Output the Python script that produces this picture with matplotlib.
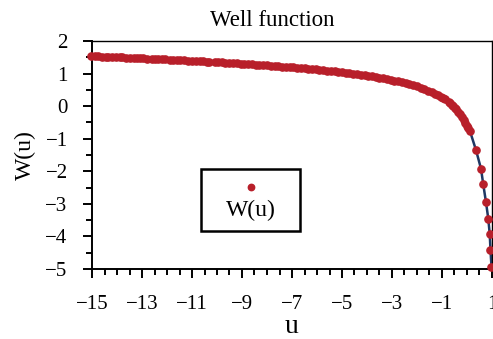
import matplotlib
matplotlib.use('Agg')
import matplotlib.pyplot as plt
from matplotlib.ticker import MultipleLocator
from matplotlib.lines import Line2D
from matplotlib.offsetbox import AnchoredOffsetbox, DrawingArea, TextArea, VPacker

plt.rcParams['font.family'] = ['Liberation Serif', 'DejaVu Serif']

# log10(u) and log10(W(u))
log_u = [-15.05, -14.9, -14.78, -14.6, -14.45, -14.38, -14.2, -14.05, -13.9, -13.82,
         -13.65, -13.5, -13.33, -13.2, -13.1, -12.95, -12.8, -12.62, -12.5, -12.35,
         -12.2, -12.1, -11.9, -11.75, -11.6, -11.5, -11.3, -11.15, -11.0, -10.85,
         -10.7, -10.55, -10.4, -10.3, -10.1, -9.95, -9.8, -9.7, -9.5, -9.35,
         -9.2, -9.05, -8.9, -8.75, -8.6, -8.45, -8.3, -8.15, -8.0, -7.85,
         -7.7, -7.55, -7.4, -7.25, -7.1, -6.95, -6.8, -6.65, -6.5, -6.35,
         -6.2, -6.05, -5.9, -5.75, -5.6, -5.45, -5.3, -5.15, -5.0, -4.85,
         -4.7, -4.55, -4.4, -4.25, -4.1, -3.95, -3.8, -3.65, -3.5, -3.35,
         -3.2, -3.05, -2.9, -2.75, -2.6, -2.45, -2.3, -2.15, -2.0, -1.85,
         -1.7, -1.55, -1.4, -1.28, -1.15, -1.05, -0.95, -0.88,
         -0.72, -0.66, -0.6, -0.54, -0.48, -0.42, -0.35, -0.28, -0.2, -0.13,
         -0.06, 0.0, 0.06, 0.12,
         0.36, 0.56, 0.65, 0.76, 0.85, 0.91, 0.94, 0.98]
log_w = [1.532, 1.528, 1.525, 1.519, 1.515, 1.512, 1.507, 1.502, 1.497, 1.495,
         1.489, 1.484, 1.479, 1.475, 1.471, 1.466, 1.461, 1.455, 1.450, 1.445,
         1.440, 1.436, 1.429, 1.423, 1.417, 1.413, 1.406, 1.400, 1.394, 1.388,
         1.381, 1.375, 1.369, 1.364, 1.356, 1.349, 1.342, 1.338, 1.328, 1.321,
         1.314, 1.307, 1.299, 1.292, 1.284, 1.276, 1.268, 1.260, 1.252, 1.243,
         1.234, 1.226, 1.217, 1.207, 1.198, 1.188, 1.178, 1.168, 1.158, 1.148,
         1.137, 1.126, 1.114, 1.103, 1.091, 1.078, 1.066, 1.052, 1.039, 1.025,
         1.011, 0.996, 0.980, 0.964, 0.948, 0.930, 0.912, 0.894, 0.874, 0.854,
         0.832, 0.809, 0.786, 0.760, 0.733, 0.705, 0.674, 0.642, 0.606, 0.568,
         0.526, 0.480, 0.429, 0.384, 0.331, 0.285, 0.255, 0.215,
         0.13, 0.095, 0.05, 0.0, -0.045, -0.1, -0.165, -0.245, -0.335, -0.425,
         -0.52, -0.6, -0.68, -0.77,
         -1.35, -1.92, -2.40, -2.95, -3.45, -3.93, -4.43, -4.93]

red = '#B81F2A'
navy = '#1F3864'

fig = plt.figure(figsize=(4.93, 3.39), dpi=100)
ax = fig.add_axes([92 / 493, 1 - 269 / 339, 400 / 493, 228 / 339])

ax.plot(log_u, log_w, color=navy, lw=1.8, zorder=2)
ax.plot(log_u, log_w, ls='none', marker='o', ms=5.2, color=red,
        clip_on=False, zorder=3)

ax.set_xlim(-15, 1)
ax.set_ylim(-5, 2)
ax.set_xticks(range(-15, 2, 2))
ax.set_yticks(range(-5, 3))
ax.xaxis.set_minor_locator(MultipleLocator(0.5))
ax.yaxis.set_minor_locator(MultipleLocator(0.5))
ax.tick_params(which='major', direction='out', length=6.5, width=1.4,
               labelsize=15)
ax.tick_params(axis='x', which='major', pad=12)
ax.tick_params(axis='y', which='major', pad=11)
ax.tick_params(which='minor', direction='out', length=4.3, width=1.4)
for s in ax.spines.values():
    s.set_linewidth(1.4)
ax.spines['top'].set_linewidth(1.0)
ax.spines['right'].set_linewidth(1.0)

ax.set_xlabel('u', fontsize=20, labelpad=0)
ax.set_ylabel('W(u)', fontsize=17, labelpad=7)
fig.text(272 / 493, 1 - 20 / 339, 'Well function', ha='center', va='center',
         fontsize=16.5)

# legend: marker stacked above the label
key = DrawingArea(71, 22, 0, 0)
key.add_artist(Line2D([35.5], [9], ls='none', marker='o', ms=4.6, color=red))
label = TextArea('W(u)', textprops=dict(fontsize=17))
spacer = DrawingArea(71, 7, 0, 0)
box = VPacker(children=[key, label, spacer], align='center', pad=0, sep=0)
leg = AnchoredOffsetbox(loc='center', child=box, pad=0.0, borderpad=0,
                        frameon=True,
                        bbox_to_anchor=(250.5 / 493, 1 - 200 / 339),
                        bbox_transform=fig.transFigure)
leg.patch.set_linewidth(1.8)
leg.patch.set_edgecolor('black')
leg.patch.set_boxstyle('square', pad=0)
ax.add_artist(leg)

fig.savefig('out.png', dpi=100, facecolor='white')
